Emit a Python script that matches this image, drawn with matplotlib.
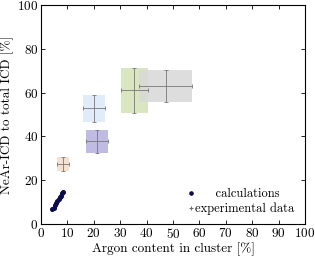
import numpy as np
import matplotlib
matplotlib.use("Agg")
import matplotlib.pyplot as plt
from matplotlib.patches import Rectangle

plt.rcParams['font.family'] = ['cmr10', 'DejaVu Serif']
plt.rcParams['mathtext.fontset'] = 'cm'
plt.rcParams['axes.formatter.use_mathtext'] = True

# calculations (argon content %, NeAr-ICD share %)
calc_x = [4.2, 4.8, 5.3, 5.8, 6.2, 6.7, 7.1, 7.6, 8.0, 8.3]
calc_y = [7.0, 7.3, 8.5, 9.6, 10.5, 11.4, 12.3, 13.0, 14.0, 14.8]

# experimental data: centre, x error, y error, box colour
exp_x = [8.3, 20.2, 21.3, 35.3, 47.2]
exp_y = [27.5, 52.8, 37.8, 61.0, 63.1]
exp_xerr = [2.2, 4.2, 4.2, 5.1, 10.1]
exp_yerr = [3.2, 6.1, 5.2, 10.1, 7.2]
exp_col = ['#f3dccd', '#dbe9f9', '#b5b0dd', '#d3e2b5', '#d8d8d8']

fig = plt.figure(figsize=(3.15, 2.56), dpi=100)
ax = fig.add_axes([41/315, 1 - 224/256, 264/315, 219/256])

for x, y, xe, ye, c in zip(exp_x, exp_y, exp_xerr, exp_yerr, exp_col):
    ax.add_patch(Rectangle((x - xe, y - ye), 2*xe, 2*ye, facecolor=c,
                           edgecolor='none', alpha=0.85, zorder=1))
ax.errorbar(exp_x, exp_y, xerr=exp_xerr, yerr=exp_yerr, fmt='none',
            ecolor='#777777', elinewidth=0.6, capsize=1.5, capthick=0.6,
            zorder=2)
ax.plot(calc_x, calc_y, 'o', color='#0b0b4d', ms=2.6, zorder=3)

h1 = ax.plot([], [], 'o', color='#0b0b4d', ms=2.3)[0]
h2 = ax.plot([], [], '+', color='#6e6e6e', ms=3, mew=0.8)[0]
ax.legend([h1, h2], ['     calculations', 'experimental data'], loc='lower right',
          frameon=False, fontsize=9, handlelength=0.4, handletextpad=0.1,
          labelspacing=0.2, borderaxespad=0, borderpad=0,
          bbox_to_anchor=(0.96, 0.04))

ax.set_xlim(0, 100)
ax.set_ylim(0, 100)
ax.set_xticks(np.arange(0, 101, 10))
ax.set_yticks(np.arange(0, 101, 20))
ax.tick_params(direction='in', top=True, right=True, labelsize=9.5,
               length=3, width=0.6, pad=2)
for s in ax.spines.values():
    s.set_linewidth(0.8)
ax.set_xlabel('Argon content in cluster [%]', fontsize=9.5, labelpad=1)
ax.set_ylabel('NeAr-ICD to total ICD [%]', fontsize=9.5, labelpad=2)

fig.savefig('out.png', dpi=100)
